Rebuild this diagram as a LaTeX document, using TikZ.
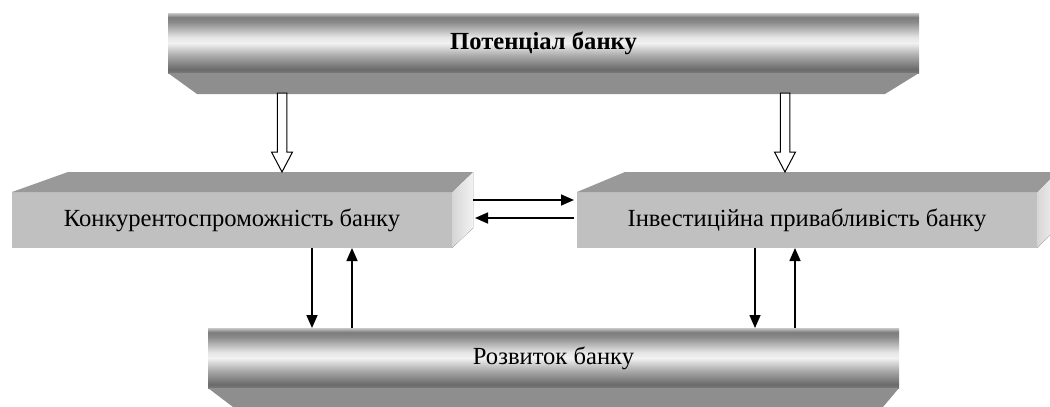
\documentclass[tikz,border=0pt]{standalone}
\usepackage{fontspec}
\setmainfont{Liberation Serif}
\usetikzlibrary{arrows.meta,calc}

% grey tones for the cylinder-like bars
\definecolor{barA}{HTML}{7A7A7A}
\definecolor{barB}{HTML}{6A6A6A}
\definecolor{barC}{HTML}{ADADAD}
\definecolor{barD}{HTML}{F2F2F2}
\definecolor{barE}{HTML}{E4E4E4}
\definecolor{barF}{HTML}{8A8A8A}
\definecolor{barG}{HTML}{7C7C7C}
\definecolor{barH}{HTML}{C8C8C8}
\definecolor{bevelgray}{HTML}{8E8E8E}
\definecolor{boxfront}{HTML}{C0C0C0}
\definecolor{boxtop}{HTML}{999999}
\definecolor{sideA}{HTML}{D6D6D6}
\definecolor{sideB}{HTML}{F2F2F2}

\pgfdeclareverticalshading{barshade}{100bp}{%
  color(0bp)=(barA); color(25bp)=(barA); color(28bp)=(barB);
  color(40bp)=(barC); color(50bp)=(barD); color(55bp)=(barE);
  color(67.5bp)=(barF); color(71.5bp)=(barG); color(75bp)=(barH);
  color(100bp)=(barH)}

\tikzset{
  txt/.style={font=\fontsize{24.6}{28}\selectfont},
  barfront/.style={txt, shading=barshade, outer sep=0pt, inner sep=0pt,
    minimum height=60pt},
  boxfront/.style={txt, fill=boxfront, outer sep=0pt, inner sep=0pt,
    minimum height=56pt},
  bevelface/.style={fill=bevelgray},
  topface/.style={fill=boxtop},
  sideface/.style={left color=sideA, right color=sideB},
  arr/.style={line width=1.6pt, -{Triangle[length=13pt,width=11pt]}},
  hollow/.style={draw=black, line width=1pt, fill=white, line join=miter}
}

\begin{document}
\begin{tikzpicture}[x=1pt,y=-1pt]
\useasboundingbox (0,0) rectangle (1050,407);

% upper bar
\node[barfront, minimum width=751pt] (pot) at (543.5,43)
  {\bfseries Потенціал банку};
\fill[bevelface] (pot.south west) -- (pot.south east) -- ++(-34,21)
  -- ($(pot.south west)+(29,21)$) -- cycle;

% middle blocks
\node[boxfront, minimum width=440pt] (kon) at (232,220)
  {Конкурентоспроможність банку};
\fill[topface] (kon.north west) -- ($(kon.north west)+(56,-20)$)
  -- ($(kon.north east)+(21,-20)$) -- (kon.north east) -- cycle;
\fill[sideface] (kon.north east) -- ++(21,-20) -- ++(0,56)
  -- (kon.south east) -- cycle;

\node[boxfront, minimum width=460pt] (inv) at (807,220)
  {Інвестиційна привабливість банку};
\fill[topface] (inv.north west) -- ($(inv.north west)+(48,-20)$)
  -- ($(inv.north east)+(20,-20)$) -- (inv.north east) -- cycle;
\fill[sideface] (inv.north east) -- ++(20,-20) -- ++(0,56)
  -- (inv.south east) -- cycle;

% lower bar
\node[barfront, minimum width=691pt] (roz) at (553.5,358)
  {Розвиток банку};
\fill[bevelface] (roz.south west) -- (roz.south east) -- ++(-16,19)
  -- ($(roz.south west)+(25,19)$) -- cycle;

% hollow arrows from the upper bar
\coordinate (h1s) at ($(pot.south west)+(114,20)$);
\coordinate (h1e) at ($(h1s |- kon.north)+(0,-20)$);
\coordinate (h2s) at ($(pot.south west)+(617,20)$);
\coordinate (h2e) at ($(h2s |- inv.north)+(0,-20)$);
\foreach \s/\e in {h1s/h1e, h2s/h2e}{
  \draw[hollow] ($(\s)+(-4.75,0)$) -- ($(\e)+(-4.75,-20)$) -- ($(\e)+(-10.5,-20)$)
    -- (\e) -- ($(\e)+(10.5,-20)$) -- ($(\e)+(4.75,-20)$) -- ($(\s)+(4.75,0)$) -- cycle;
}

% horizontal links between the middle blocks
\draw[arr] ($(kon.north east)+(21,8)$) -- ($(inv.north west)+(-3,8)$);
\draw[arr] ($(inv.north west)+(-3,26)$) -- ($(kon.north east)+(23,26)$);

% vertical links to the lower bar
\coordinate (d1) at ($(kon.south west)+(300,0)$);
\coordinate (u1) at ($(kon.south west)+(340,0)$);
\coordinate (d2) at ($(inv.south west)+(178,0)$);
\coordinate (u2) at ($(inv.south west)+(218,0)$);
\draw[arr] (d1) -- (d1 |- roz.north);
\draw[arr] (u1 |- roz.north) -- (u1);
\draw[arr] (d2) -- (d2 |- roz.north);
\draw[arr] (u2 |- roz.north) -- (u2);
\end{tikzpicture}
\end{document}
